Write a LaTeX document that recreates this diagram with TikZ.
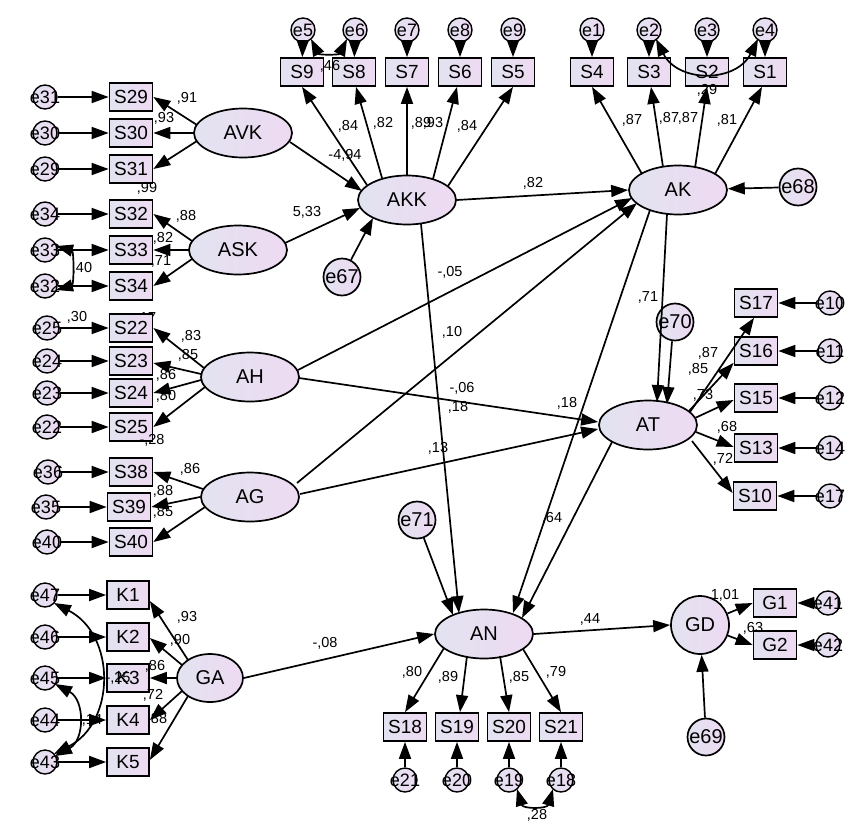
\documentclass[tikz,border=0pt]{standalone}
\usepackage{fontspec}
\setmainfont{Liberation Sans}
\usetikzlibrary{arrows.meta,shapes.geometric}
\definecolor{lc}{HTML}{E2E3F0}
\definecolor{rc}{HTML}{EEDAF2}
\newcommand{\zw}[1]{\makebox[0pt]{#1}}
\begin{document}
\begin{tikzpicture}[x=1pt,y=-1pt,
  base/.style={draw,line width=1.7pt,shade,left color=lc,right color=rc,inner sep=0pt},
  lat/.style={base,ellipse,minimum width=98pt,minimum height=49pt,font=\fontsize{20}{21}\selectfont},
  obs/.style={base,rectangle,minimum width=43pt,minimum height=28pt,font=\fontsize{19}{20}\selectfont},
  es/.style={base,circle,line width=1.4pt,minimum size=24pt,font=\fontsize{18}{19}\selectfont},
  eb/.style={base,circle,minimum size=37pt,font=\fontsize{20}{21}\selectfont},
  pth/.style={line width=1.7pt,-{Triangle[length=17pt,width=12pt]}},
  cov/.style={line width=1.7pt,{Triangle[length=17pt,width=12pt]}-{Triangle[length=17pt,width=12pt]}},
  lbl/.style={font=\fontsize{14.5}{15}\selectfont,inner sep=0pt}]
\fill[white] (0,0) rectangle (850,838);
\useasboundingbox (0,0) rectangle (850,838);

% labels hidden under boxes
\node[lbl] (l17) at (146,318) {,17};

% ---- left top block
\node[lat] (AVK) at (243,133) {AVK};
\node[lat] (ASK) at (238,250) {ASK};
\node[obs] (S29) at (131,97) {S29};
\node[obs] (S30) at (131,133) {S30};
\node[obs] (S31) at (131,169) {S31};
\node[obs] (S32) at (131,214) {S32};
\node[obs] (S33) at (131,250) {S33};
\node[obs] (S34) at (131,286) {S34};
\node[es] (e31) at (45,97) {\zw{e31}};
\node[es] (e30) at (45,133) {\zw{e30}};
\node[es] (e29) at (45,169) {\zw{e29}};
\node[es] (e34) at (45,214) {\zw{e34}};
\node[es] (e33) at (45,250) {\zw{e33}};
\node[es] (e32) at (45,286) {\zw{e32}};

% ---- AH / AG
\node[lat] (AH) at (250,377) {AH};
\node[lat] (AG) at (250,497) {AG};
\node[obs] (S22) at (131,328) {S22};
\node[obs] (S23) at (131,361) {S23};
\node[obs] (S24) at (131,393) {S24};
\node[obs] (S25) at (131,427) {S25};
\node[es] (e25) at (47,328) {\zw{e25}};
\node[es] (e24) at (47,361) {\zw{e24}};
\node[es] (e23) at (47,393) {\zw{e23}};
\node[es] (e22) at (47,427) {\zw{e22}};
\node[obs] (S38) at (131,472) {S38};
\node[obs] (S39) at (129,507) {S39};
\node[obs] (S40) at (131,542) {S40};
\node[es] (e36) at (48,472) {\zw{e36}};
\node[es] (e35) at (46,507) {\zw{e35}};
\node[es] (e40) at (47,542) {\zw{e40}};

% ---- GA
\node[lat,minimum width=66pt,minimum height=48pt] (GA) at (210,678) {GA};
\node[obs,minimum width=42pt] (K1) at (128,595) {K1};
\node[obs,minimum width=42pt] (K2) at (128,637) {K2};
\node[obs,minimum width=42pt] (K3) at (128,678) {K3};
\node[obs,minimum width=42pt] (K4) at (128,720) {K4};
\node[obs,minimum width=42pt] (K5) at (128,762) {K5};
\node[es] (e47) at (45,595) {\zw{e47}};
\node[es] (e46) at (45,637) {\zw{e46}};
\node[es] (e45) at (45,678) {\zw{e45}};
\node[es] (e44) at (45,720) {\zw{e44}};
\node[es] (e43) at (45,762) {\zw{e43}};

% ---- AKK
\node[lat] (AKK) at (407,200) {AKK};
\node[obs] (S9) at (302,72) {S9};
\node[obs] (S8) at (354,72) {S8};
\node[obs] (S7) at (407,72) {S7};
\node[obs] (S6) at (460,72) {S6};
\node[obs] (S5) at (513,72) {S5};
\node[es] (e5) at (303,30) {\zw{e5}};
\node[es] (e6) at (355,30) {\zw{e6}};
\node[es] (e7) at (407,30) {\zw{e7}};
\node[es] (e8) at (460,30) {\zw{e8}};
\node[es] (e9) at (513,30) {\zw{e9}};
\node[eb] (e67) at (342,277) {\zw{e67}};

% ---- AK
\node[lat] (AK) at (678,190) {AK};
\node[obs] (S4) at (592,72) {S4};
\node[obs] (S3) at (649,72) {S3};
\node[obs] (S2) at (707,72) {S2};
\node[obs] (S1) at (765,72) {S1};
\node[es] (e1) at (592,30) {\zw{e1}};
\node[es] (e2) at (649,30) {\zw{e2}};
\node[es] (e3) at (707,30) {\zw{e3}};
\node[es] (e4) at (765,30) {\zw{e4}};
\node[eb] (e68) at (798,187) {\zw{e68}};

% ---- AT
\node[lat] (AT) at (648,425) {AT};
\node[obs] (S17) at (756,303) {S17};
\node[obs] (S16) at (756,351) {S16};
\node[obs] (S15) at (756,398) {S15};
\node[obs] (S13) at (756,448) {S13};
\node[obs] (S10) at (755,496) {S10};
\node[es] (e10) at (830,303) {\zw{e10}};
\node[es] (e11) at (830,351) {\zw{e11}};
\node[es] (e12) at (830,398) {\zw{e12}};
\node[es] (e14) at (830,448) {\zw{e14}};
\node[es] (e17) at (830,496) {\zw{e17}};
\node[eb] (e70) at (675,322) {\zw{e70}};

% ---- AN
\node[lat] (AN) at (484,634) {AN};
\node[obs] (S18) at (405,727) {S18};
\node[obs] (S19) at (457,727) {S19};
\node[obs] (S20) at (509,727) {S20};
\node[obs] (S21) at (561,727) {S21};
\node[es] (e21) at (405,780) {\zw{e21}};
\node[es] (e20) at (457,780) {\zw{e20}};
\node[es] (e19) at (509,780) {\zw{e19}};
\node[es] (e18) at (561,780) {\zw{e18}};
\node[eb] (e71) at (417,520) {\zw{e71}};

% ---- GD
\node[base,circle,minimum size=58pt,font=\fontsize{20}{21}\selectfont] (GD) at (700,625) {GD};
\node[obs] (G1) at (775,603) {G1};
\node[obs] (G2) at (775,645) {G2};
\node[es] (e41) at (828,603) {\zw{e41}};
\node[es] (e42) at (828,645) {\zw{e42}};
\node[eb] (e69) at (706,737) {\zw{e69}};

% ================= paths
\foreach \e/\s in {e31/S29,e30/S30,e29/S31,e34/S32,e33/S33,e32/S34,e25/S22,e24/S23,e23/S24,e22/S25,e36/S38,e35/S39,e40/S40,e47/K1,e46/K2,e45/K3,e44/K4,e43/K5}
  \draw[pth] (\e) -- (\s);
\foreach \e/\s in {e5/S9,e6/S8,e7/S7,e8/S6,e9/S5,e1/S4,e2/S3,e3/S2,e4/S1,e21/S18,e20/S19,e19/S20,e18/S21,e10/S17,e11/S16,e12/S15,e14/S13,e17/S10,e41/G1,e42/G2}
  \draw[pth] (\e) -- (\s);

% AVK / ASK loadings
\draw[pth] ([shift={(-46,-8)}]AVK.center) -- (S29.east);
\draw[pth] ([shift={(-49,0)}]AVK.center) -- (S30.east);
\draw[pth] ([shift={(-46,8)}]AVK.center) -- (S31.east);
\draw[pth] ([shift={(-46,-9)}]ASK.center) -- (S32.east);
\draw[pth] ([shift={(-49,0)}]ASK.center) -- (S33.east);
\draw[pth] ([shift={(-46,9)}]ASK.center) -- (S34.east);
% AH / AG loadings
\draw[pth] ([shift={(-46,-9)}]AH.center) -- (S22.east);
\draw[pth] ([shift={(-49,-3)}]AH.center) -- ([shift={(0,2)}]S23.east);
\draw[pth] ([shift={(-49,3)}]AH.center) -- (S24.east);
\draw[pth] ([shift={(-45,10)}]AH.center) -- (S25.east);
\draw[pth] ([shift={(-47,-8)}]AG.center) -- (S38.east);
\draw[pth] ([shift={(-50,0)}]AG.center) -- (S39.east);
\draw[pth] ([shift={(-45,10)}]AG.center) -- (S40.east);
% GA loadings
\draw[pth] ([shift={(-22,-18)}]GA.center) -- ([shift={(0,6)}]K1.east);
\draw[pth] ([shift={(-28,-13)}]GA.center) -- ([shift={(0,1)}]K2.east);
\draw[pth] ([shift={(-33,0)}]GA.center) -- (K3.east);
\draw[pth] ([shift={(-28,13)}]GA.center) -- (K4.east);
\draw[pth] ([shift={(-22,18)}]GA.center) -- ([shift={(0,-2)}]K5.east);
% AKK loadings
\draw[pth] ([shift={(-40,-15)}]AKK.center) -- (S9.south);
\draw[pth] ([shift={(-25,-22)}]AKK.center) -- ([shift={(2,0)}]S8.south);
\draw[pth] ([shift={(0,-25)}]AKK.center) -- (S7.south);
\draw[pth] ([shift={(26,-21)}]AKK.center) -- ([shift={(-3,0)}]S6.south);
\draw[pth] ([shift={(41,-14)}]AKK.center) -- (S5.south);
% AK loadings
\draw[pth] ([shift={(-36,-16)}]AK.center) -- (S4.south);
\draw[pth] ([shift={(-15,-23)}]AK.center) -- ([shift={(2,0)}]S3.south);
\draw[pth] ([shift={(17,-22)}]AK.center) -- (S2.south);
\draw[pth] ([shift={(37,-16)}]AK.center) -- ([shift={(-3,0)}]S1.south);
% AT loadings
\draw[pth] ([shift={(42,-13)}]AT.center) -- ([shift={(-2,0)}]S17.south);
\draw[pth] ([shift={(41,-14)}]AT.center) -- ([shift={(0,-3)}]S16.south west);
\draw[pth] ([shift={(47,-7)}]AT.center) -- ([shift={(0,2)}]S15.west);
\draw[pth] ([shift={(48,7)}]AT.center) -- ([shift={(0,-1)}]S13.west);
\draw[pth] ([shift={(44,16)}]AT.center) -- ([shift={(0,-3)}]S10.west);
% AN loadings
\draw[pth] ([shift={(-40,14)}]AN.center) -- (S18.north);
\draw[pth] ([shift={(-17,22)}]AN.center) -- ([shift={(3,0)}]S19.north);
\draw[pth] ([shift={(16,22)}]AN.center) -- (S20.north);
\draw[pth] ([shift={(39,15)}]AN.center) -- (S21.north);
% GD loadings
\draw[pth] (GD) -- (G1.west);
\draw[pth] (GD) -- (G2.west);

% structural paths
\draw[pth] ([shift={(47,9)}]AVK.center) -- ([shift={(-45,-9)}]AKK.center);
\draw[pth] ([shift={(47,-7)}]ASK.center) -- ([shift={(-47,8)}]AKK.center);
\draw[pth] (e67) -- ([shift={(-34,18)}]AKK.center);
\draw[pth] (AKK.east) -- (AK.west);
\draw[pth] (e68) -- (AK);
\draw[pth] ([shift={(48,-7)}]AH.center) -- ([shift={(-46,8)}]AK.center);
\draw[pth] ([shift={(47,-14)}]AG.center) -- ([shift={(-41,13)}]AK.center);
\draw[pth] ([shift={(-11,24)}]AK.center) -- ([shift={(9,-23)}]AT.center);
\draw[pth] ([shift={(-3,0)}]e70.south) -- ([shift={(19,-21)}]AT.center);
\draw[pth] ([shift={(49,1)}]AH.center) -- ([shift={(0,-3)}]AT.west);
\draw[pth] ([shift={(50,-3)}]AG.center) -- ([shift={(0,4)}]AT.west);
\draw[pth] ([shift={(14,24)}]AKK.center) -- ([shift={(-25,-21)}]AN.center);
\draw[pth] ([shift={(-28,20)}]AK.center) -- ([shift={(29,-21)}]AN.center);
\draw[pth] ([shift={(-36,17)}]AT.center) -- ([shift={(38,-16)}]AN.center);
\draw[pth] (e71) -- ([shift={(-31,-19)}]AN.center);
\draw[pth] (GA.east) -- (AN.west);
\draw[pth] (AN.east) -- (GD.west);
\draw[pth] (e69) -- (GD);

% covariances
\draw[cov] ([shift={(8,9)}]e5.center) .. controls +(8,16) and +(-8,16) .. ([shift={(-8,9)}]e6.center);
\draw[cov] ([shift={(7,9)}]e2.center) .. controls +(22,44) and +(-22,44) .. ([shift={(-7,9)}]e4.center);
\draw[cov] ([shift={(8,9)}]e19.center) .. controls +(6,20) and +(-6,20) .. ([shift={(-8,9)}]e18.center);
\draw[cov] ([shift={(11,-4)}]e33.center) .. controls +(18,5) and +(18,-5) .. ([shift={(11,4)}]e32.center);
\draw[cov] ([shift={(9,8)}]e47.center) .. controls +(62,32) and +(62,-32) .. ([shift={(9,-8)}]e43.center);
\draw[cov] ([shift={(10,6)}]e45.center) .. controls +(30,16) and +(30,-16) .. ([shift={(10,-6)}]e43.center);

% ================= labels
\node[lbl] (l1) at (187,98) {,91};
\node[lbl] (l2) at (164,118) {,93};
\node[lbl] (l3) at (147,188) {,99};
\node[lbl] (l4) at (186,216) {,88};
\node[lbl] (l5) at (163,238) {,82};
\node[lbl] (l6) at (161,261) {,71};
\node[lbl] (l7) at (82,268) {,40};
\node[lbl] (l8) at (330,66) {,46};
\node[lbl] (l9) at (348,126) {,84};
\node[lbl] (l10) at (383,123) {,82};
\node[lbl] (l11) at (421,123) {,89};
\node[lbl] (l12) at (433,123) {,93};
\node[lbl] (l13) at (467,126) {,84};
\node[lbl] (l14) at (345,155) {-4,94};
\node[lbl] (l15) at (307,212) {5,33};
\node[lbl] (l16) at (533,183) {,82};
\node[lbl] (l17b) at (632,120) {,87};
\node[lbl] (l18) at (669,118) {,87};
\node[lbl] (l19) at (688,118) {,87};
\node[lbl] (l20) at (727,120) {,81};
\node[lbl] (l21) at (707,90) {,29};
\node[lbl] (l22) at (648,297) {,71};
\node[lbl] (l23) at (450,272) {-,05};
\node[lbl] (l24) at (452,332) {,10};
\node[lbl] (l25) at (462,388) {-,06};
\node[lbl] (l26) at (458,407) {,18};
\node[lbl] (l27) at (567,403) {,18};
\node[lbl] (l28) at (438,448) {,13};
\node[lbl] (l29) at (552,518) {,64};
\node[lbl] (l30) at (708,353) {,87};
\node[lbl] (l31) at (698,369) {,85};
\node[lbl] (l32) at (703,395) {,73};
\node[lbl] (l33) at (727,427) {,68};
\node[lbl] (l34) at (723,459) {,72};
\node[lbl] (l35) at (77,317) {,30};
\node[lbl] (l36) at (191,336) {,83};
\node[lbl] (l37) at (188,355) {,85};
\node[lbl] (l38) at (166,375) {,86};
\node[lbl] (l39) at (166,396) {,80};
\node[lbl] (l40) at (152,440) {-,28};
\node[lbl] (l41) at (190,469) {,86};
\node[lbl] (l42) at (163,491) {,88};
\node[lbl] (l43) at (163,512) {,85};
\node[lbl] (l44) at (187,617) {,93};
\node[lbl] (l45) at (180,640) {,90};
\node[lbl] (l46) at (155,666) {,86};
\node[lbl] (l47) at (153,695) {,72};
\node[lbl] (l48) at (157,719) {,88};
\node[lbl] (l49) at (118,678) {-,25};
\node[lbl] (l50) at (92,720) {,14};
\node[lbl] (l51) at (325,643) {-,08};
\node[lbl] (l52) at (412,672) {,80};
\node[lbl] (l53) at (448,677) {,89};
\node[lbl] (l54) at (519,677) {,85};
\node[lbl] (l55) at (556,672) {,79};
\node[lbl] (l56) at (590,619) {,44};
\node[lbl] (l57) at (537,815) {,28};
\node[lbl] (l58) at (725,595) {1,01};
\node[lbl] (l59) at (753,628) {,63};
\end{tikzpicture}
\end{document}
